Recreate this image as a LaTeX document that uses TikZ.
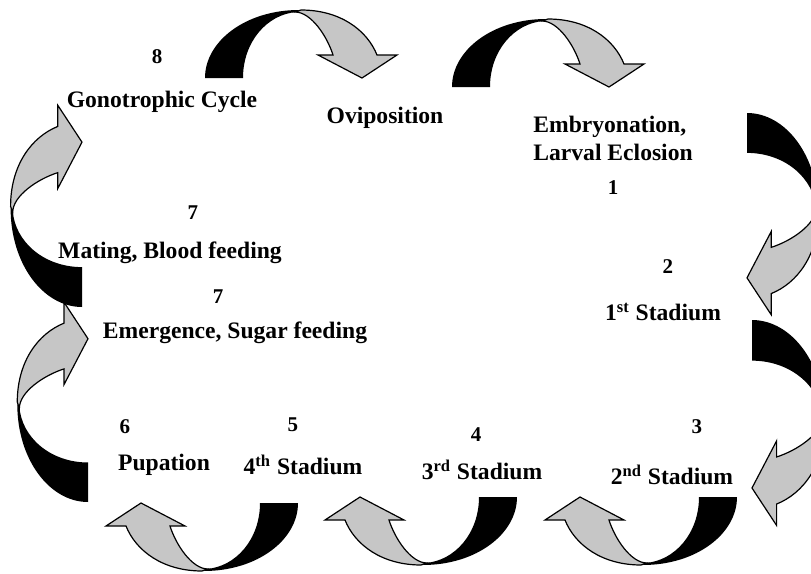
\documentclass[tikz,border=0pt]{standalone}
\usepackage{fontspec}
\setmainfont{Liberation Serif}
\usetikzlibrary{positioning}

% one curved arrow: black tail at the origin, grey head to the right
\newcommand{\cyclearrow}{%
  \fill[black] (0,0) -- (38,0) .. controls (38,-36) and (62,-64) .. (92,-66)
    -- (94,-68) .. controls (41,-68) and (0,-37) .. (0,0) -- cycle;
  \filldraw[fill=gray!45, draw=black, line width=0.6pt]
    (90,-66) .. controls (106,-66) and (122,-42) .. (128,-23)
    -- (113,-23) -- (157,0) -- (192,-23) -- (172,-23)
    .. controls (162,-48) and (135,-68) .. (96,-68) -- cycle;
}

\begin{document}
\begin{tikzpicture}[x=0.5pt, y=-0.5pt,
    stage/.style={font=\bfseries\fontsize{11.8}{14}\selectfont, inner sep=0pt},
    num/.style={font=\bfseries\fontsize{10.5}{12}\selectfont, inner sep=0pt}]
    \useasboundingbox (0,0) rectangle (811,574);
    \clip (0,0) rectangle (811,574);

    % top row
    \begin{scope}[shift={(205,78)}] \cyclearrow \end{scope}
    \begin{scope}[shift={(452,87)}] \cyclearrow \end{scope}

    % right side
    \begin{scope}[shift={(747,113)}, rotate=-90, scale=1.05] \cyclearrow \end{scope}
    \begin{scope}[shift={(752,320)}, rotate=-90, scale=1.07] \cyclearrow \end{scope}

    % bottom row
    \begin{scope}[shift={(737,497)}, rotate=180] \cyclearrow \end{scope}
    \begin{scope}[shift={(517,497)}, rotate=180] \cyclearrow \end{scope}
    \begin{scope}[shift={(298,503)}, rotate=180] \cyclearrow \end{scope}

    % left side
    \begin{scope}[shift={(88,502)}, rotate=90, scale=1.04] \cyclearrow \end{scope}
    \begin{scope}[shift={(82,307)}, rotate=90, scale=1.05] \cyclearrow \end{scope}

    % stages
    \node[num] (n8) at (157,57) {8};
    \node[stage] (gono) at (162,102) {Gonotrophic Cycle};
    \node[stage] (ovi) at (385,118) {Oviposition};
    \node[stage, align=left, anchor=west] (embryo) at (533,138) {Embryonation,\\Larval Eclosion};
    \node[num] (n1) at (613,188) {1};
    \node[num] (n2) at (668,267) {2};
    \node[stage] (st1) at (663,312) {1\textsuperscript{st} Stadium};
    \node[num] (n7a) at (193,213) {7};
    \node[stage] (mating) at (170,253) {Mating, Blood feeding};
    \node[num] (n7b) at (218,297) {7};
    \node[stage] (emerg) at (235,333) {Emergence, Sugar feeding};
    \node[num] (n6) at (125,427) {6};
    \node[stage] (pupa) at (164,465) {Pupation};
    \node[num] (n5) at (293,425) {5};
    \node[stage] (st4) at (303,465) {4\textsuperscript{th} Stadium};
    \node[num] (n4) at (476,435) {4};
    \node[stage] (st3) at (482,470) {3\textsuperscript{rd} Stadium};
    \node[num] (n3) at (697,427) {3};
    \node[stage] (st2) at (672,475) {2\textsuperscript{nd} Stadium};
\end{tikzpicture}
\end{document}
